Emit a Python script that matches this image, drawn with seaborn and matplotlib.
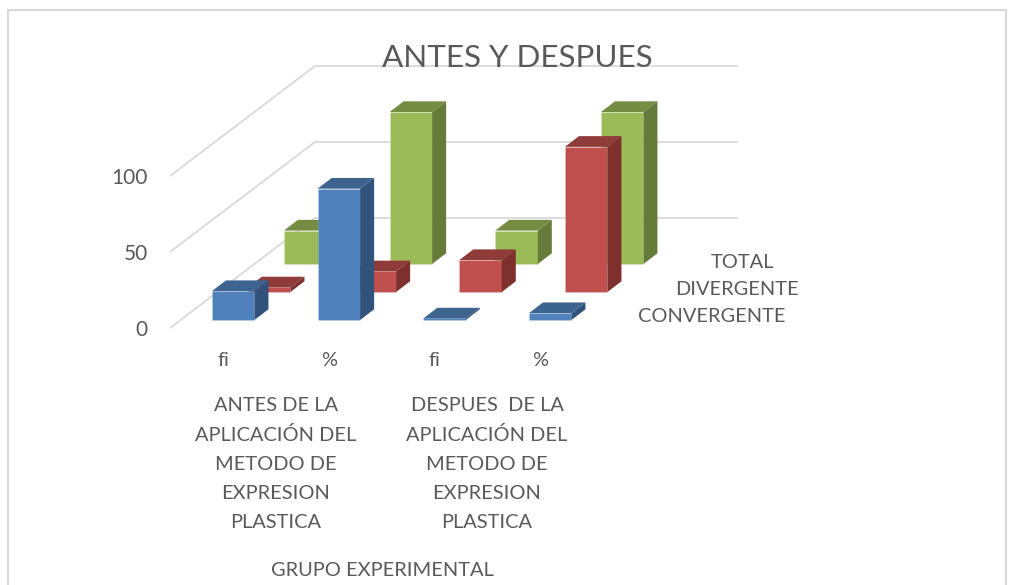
import matplotlib
matplotlib.use("Agg")
import matplotlib.pyplot as plt
from matplotlib.patches import Polygon, Rectangle
import pandas as pd
import seaborn as sns

categories = ["fi", "%", "fi", "%"]
series_names = ["CONVERGENTE", "DIVERGENTE", "TOTAL"]
convergente = [19, 86.4, 1, 4.5]
divergente = [3, 13.6, 21, 95.5]
total = [22, 100, 22, 100]
y_ticks = [0, 50, 100]
group_one = ["ANTES DE LA", "APLICACIÓN DEL", "METODO DE", "EXPRESION", "PLASTICA"]
group_two = ["DESPUES  DE LA", "APLICACIÓN DEL", "METODO DE", "EXPRESION", "PLASTICA"]
title = "ANTES Y DESPUES"
x_title = "GRUPO EXPERIMENTAL"

W, H = 1016, 585
TEXT = "#595959"
GRID = "#d9d9d9"

sns.set_theme(style="white")
plt.rcParams["font.family"] = ["Lato", "DejaVu Sans"]

fig = plt.figure(figsize=(W / 100, H / 100), dpi=100)
ax = fig.add_axes([170 / W, 0, (W - 170) / W, 1])

# scales: one category = 105.67 px, one value unit = 1.52 px
PX_X = 105.67
PX_Y = 1.52
ax_x0 = (170 - 223) / PX_X
ax_y0 = -(H - 328) / PX_Y


def dx(px):
    return px / PX_X


def dy(px):
    return px / PX_Y


# walls and floor gridlines, oblique towards the back
back_x, back_y = dx(145), dy(110)
end_x = (737 - 223) / PX_X
for t in y_ticks:
    ax.plot([ax_x0, ax_x0 + back_x, end_x], [t, t + back_y, t + back_y],
            color=GRID, lw=1.3, zorder=1, solid_joinstyle="miter")

# back to front so the near bars hide the far ones
styles = [
    (total, 2, "#9BBB59", "#758D43", "#667B3A"),
    (divergente, 1, "#C0504D", "#8E3B39", "#7E302E"),
    (convergente, 0, "#4F81BD", "#3D638F", "#31527B"),
]
bar_dx, bar_dy = dx(14), dy(10.7)
for k, (vals, depth, front, top, side) in enumerate(styles):
    floor = dy(8) + depth * dy(28)
    shift = dx(10.2) + depth * dx(36)
    df = pd.DataFrame({"pos": [i + shift for i in range(len(vals))], "val": vals})
    before = len(ax.patches)
    sns.barplot(data=df, x="pos", y="val", native_scale=True, width=dx(42.5),
                color=front, saturation=1, errorbar=None, bottom=floor, ax=ax,
                zorder=3 + k, edgecolor=(1, 1, 1, 0.2), linewidth=0.5)
    for bar in ax.patches[before:]:
        x0, x1 = bar.get_x(), bar.get_x() + bar.get_width()
        y0, y1 = bar.get_y(), bar.get_y() + bar.get_height()
        ax.add_patch(Polygon([(x0, y1), (x1, y1), (x1 + bar_dx, y1 + bar_dy), (x0 + bar_dx, y1 + bar_dy)],
                             closed=True, facecolor=top, edgecolor="none", zorder=3 + k))
        ax.add_patch(Polygon([(x1, y0), (x1 + bar_dx, y0 + bar_dy), (x1 + bar_dx, y1 + bar_dy), (x1, y1)],
                             closed=True, facecolor=side, edgecolor="none", zorder=3 + k))

ax.set_xlim(ax_x0, ax_x0 + (W - 170) / PX_X)
ax.set_ylim(ax_y0, ax_y0 + H / PX_Y)
ax.patch.set_alpha(0)
sns.despine(ax=ax, left=True, bottom=True, right=True, top=True)
ax.spines["bottom"].set_position(("data", 0))
ax.set_xlabel("")
ax.set_ylabel("")
ax.set_xticks(range(len(categories)), categories)
ax.set_yticks(y_ticks)
ax.tick_params(axis="x", length=0, pad=17, labelsize=14.4, labelcolor=TEXT)
ax.tick_params(axis="y", length=0, pad=16, labelsize=15, labelcolor=TEXT)


def put(x, y, s, size=14.4):
    fig.text(x / W, 1 - y / H, s, ha="center", va="center", fontsize=size, color=TEXT)


put(517, 58, title, 22.6)
for n, line in enumerate(group_one):
    put(276, 405.5 + n * 29.3, line)
for n, line in enumerate(group_two):
    put(487, 405.5 + n * 29.3, line)
put(382, 570.5, x_title)
put(742, 262.5, series_names[2])
put(737, 289.5, series_names[1])
put(712, 316.5, series_names[0])

# outer chart frame, bottom edge falls outside the crop
fig.add_artist(Rectangle((8 / W, -0.1), (1006 - 8) / W, 1.1 - 10 / H, transform=fig.transFigure,
                         fill=False, edgecolor=GRID, lw=1.5))

fig.savefig("out.png", dpi=100)
